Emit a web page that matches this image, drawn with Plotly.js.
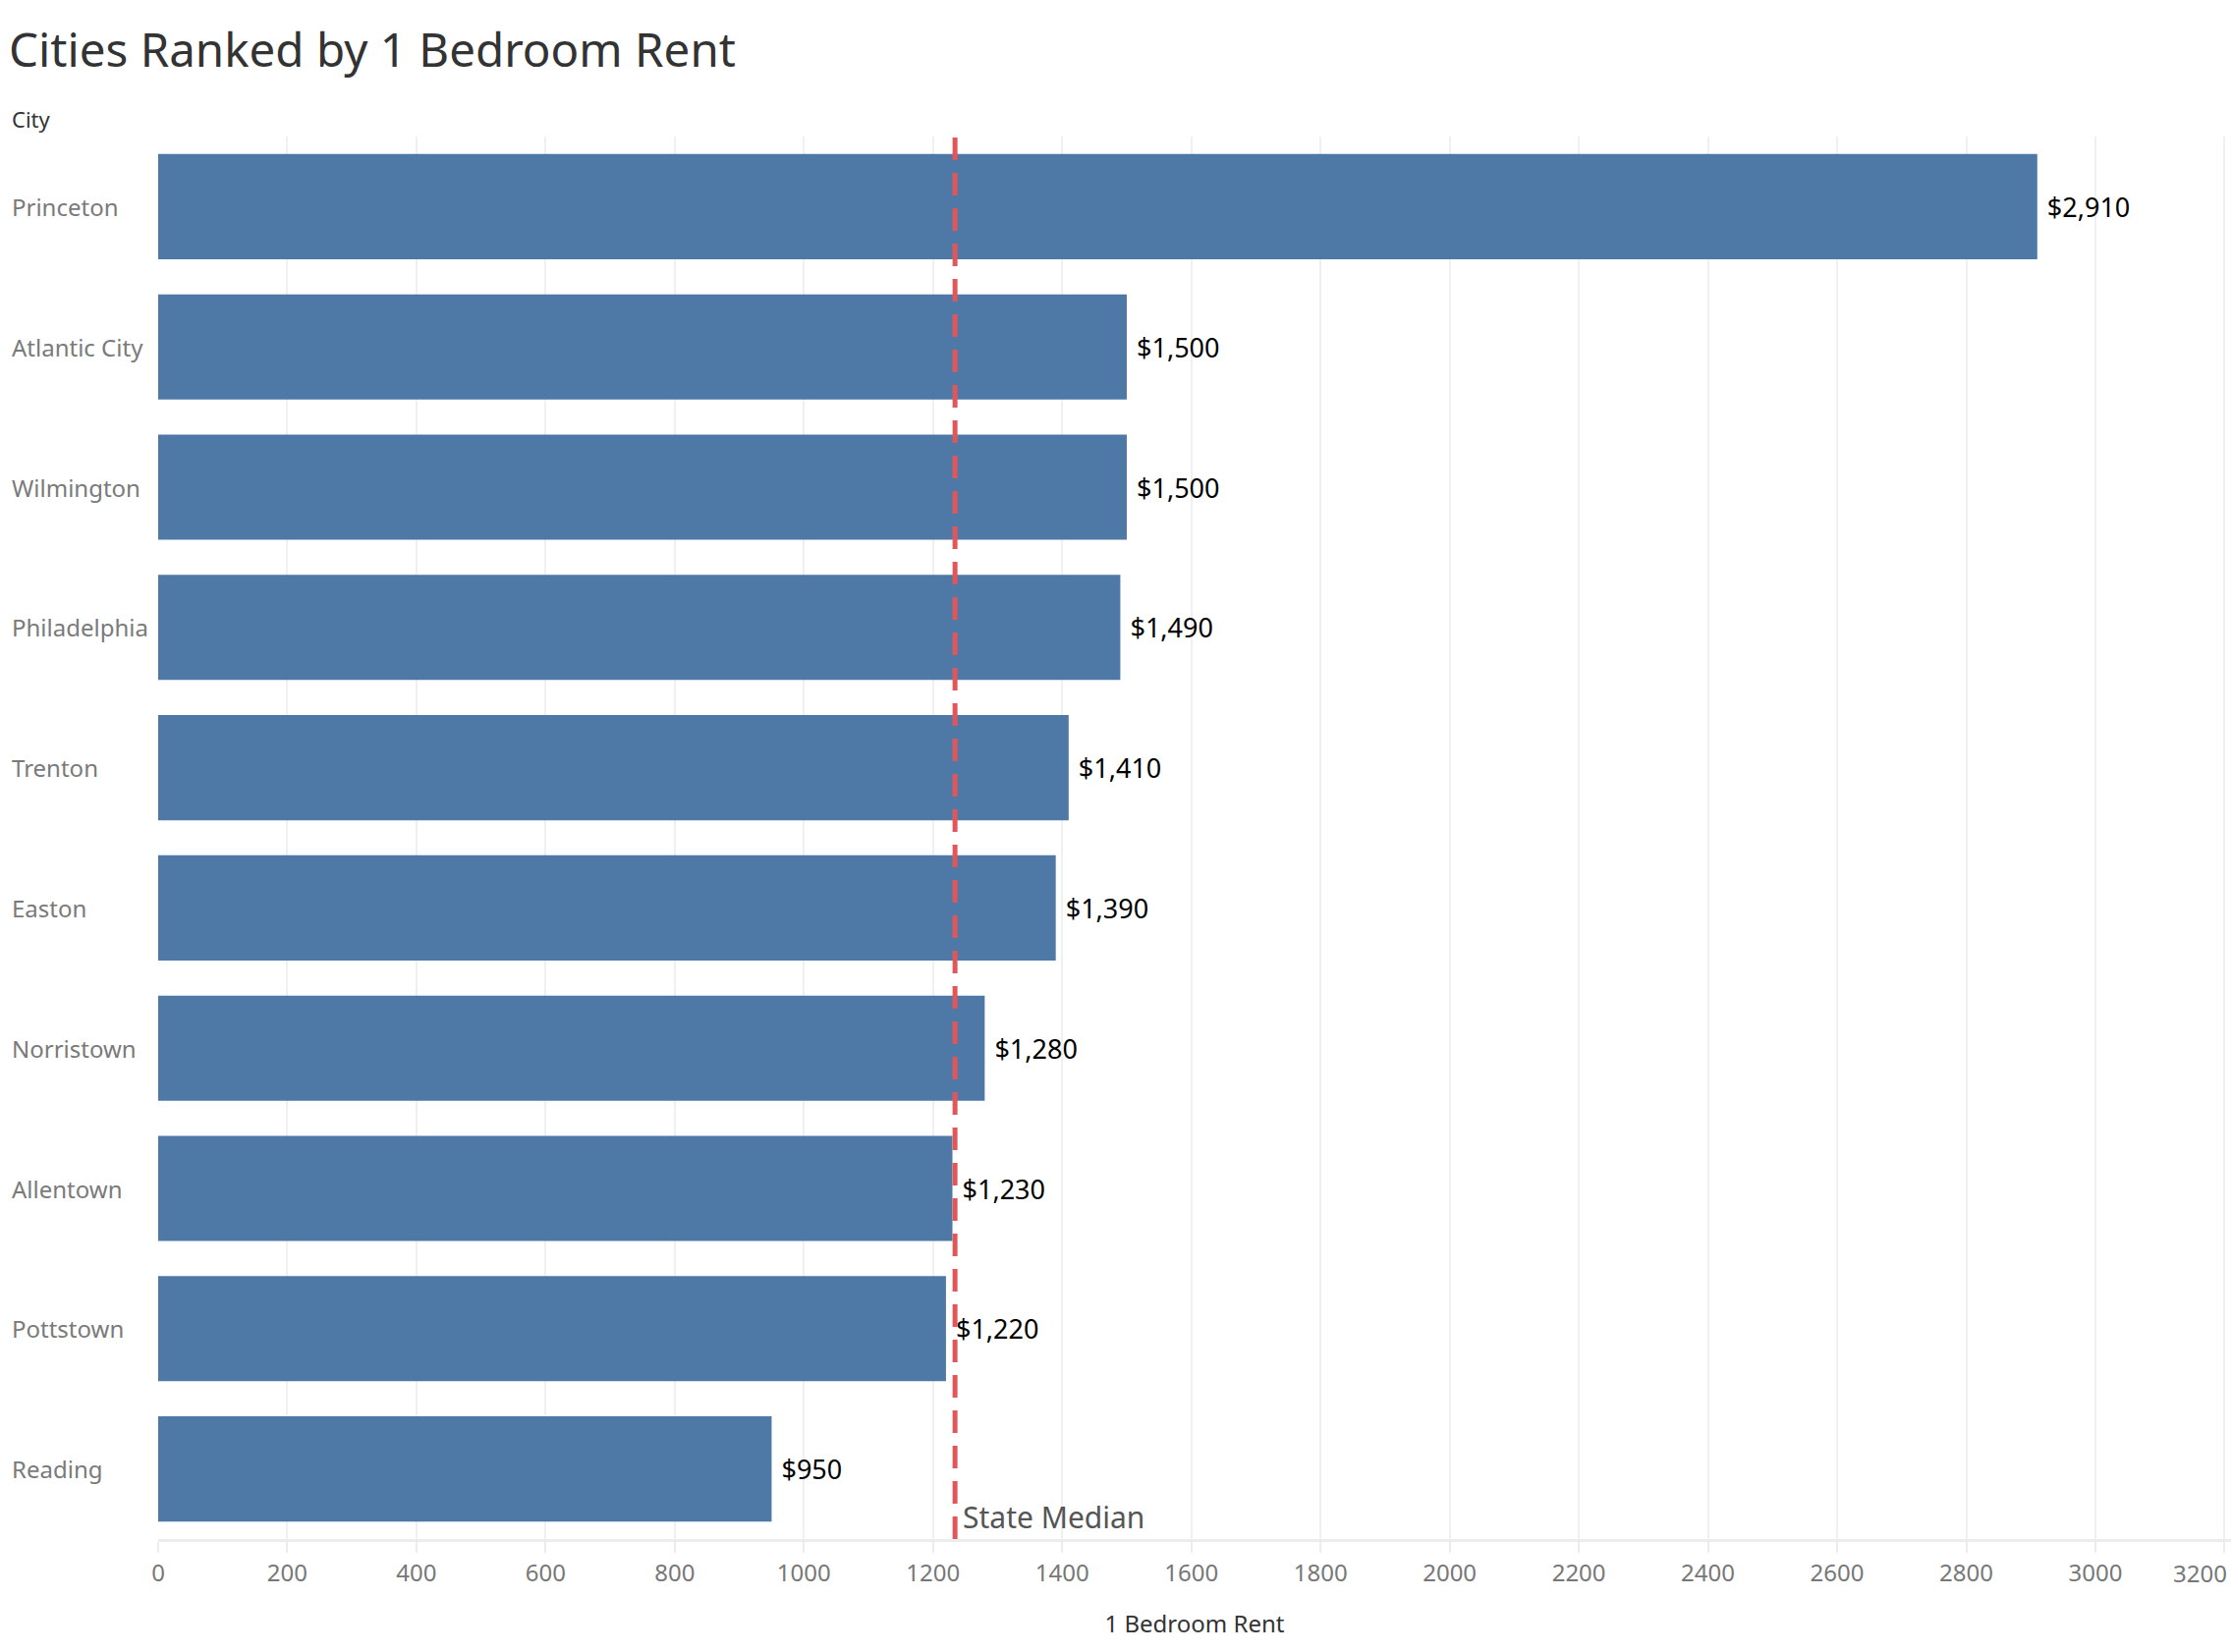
<!DOCTYPE html>
<html>
<head>
<meta charset="utf-8">
<script src="https://cdn.plot.ly/plotly-3.0.1.min.js"></script>
<style>
  html, body { margin: 0; padding: 0; background: #ffffff; }
  #chart { width: 2272px; height: 1682px; }
</style>
</head>
<body>
<div id="chart"></div>
<script>
const cities = ["Princeton", "Atlantic City", "Wilmington", "Philadelphia", "Trenton", "Easton", "Norristown", "Allentown", "Pottstown", "Reading"];
const rent1br = [2910, 1500, 1500, 1490, 1410, 1390, 1280, 1230, 1220, 950];
const stateMedian = 1234;
const xTicks = [0, 200, 400, 600, 800, 1000, 1200, 1400, 1600, 1800, 2000, 2200, 2400, 2600, 2800, 3000, 3200];

const FONT = "Noto Sans, Open Sans, sans-serif";
const lastTick = xTicks[xTicks.length - 1];

const trace = {
  type: "bar",
  orientation: "h",
  y: cities,
  x: rent1br,
  marker: { color: "#4e79a7" },
  texttemplate: "\u00a0$%{x:,.0f}",
  textposition: "outside",
  cliponaxis: false,
  textfont: { family: FONT, size: 27, color: "#000000" },
  hoverinfo: "skip"
};

const cityAnnotations = cities.map(c => ({
  xref: "paper", yref: "y",
  x: -0.0715, y: c,
  xanchor: "left", yanchor: "middle",
  text: c, showarrow: false,
  font: { family: FONT, size: 24, color: "#7a7a7a" }
}));

const layout = {
  width: 2272, height: 1682,
  paper_bgcolor: "#ffffff", plot_bgcolor: "#ffffff",
  margin: { l: 161, r: 1, t: 139, b: 115 },
  showlegend: false,
  bargap: 0.25,
  title: {
    text: "Cities Ranked by 1 Bedroom Rent",
    xref: "container", yref: "container",
    x: 0.004, xanchor: "left",
    y: 1 - 51 / 1682, yanchor: "middle",
    font: { family: FONT, size: 47.5, color: "#333333" }
  },
  xaxis: {
    range: [0, 3210],
    tickvals: xTicks,
    ticktext: xTicks.map(v => (v === lastTick ? "" : String(v))),
    showgrid: true, gridcolor: "#f0f0f0", gridwidth: 2,
    zeroline: false,
    showline: true, linecolor: "#ececec", linewidth: 3,
    ticks: "outside", ticklen: 11, tickcolor: "#ececec", tickwidth: 2,
    tickfont: { family: FONT, size: 24, color: "#777777" },
    title: { text: "1 Bedroom Rent", standoff: 30, font: { family: FONT, size: 24, color: "#333333" } },
    fixedrange: true
  },
  yaxis: {
    type: "category",
    categoryorder: "array", categoryarray: cities,
    autorange: "reversed",
    showticklabels: false,
    showgrid: false, zeroline: false, showline: false, ticks: "",
    fixedrange: true
  },
  shapes: [{
    type: "line", xref: "x", yref: "paper",
    x0: stateMedian, x1: stateMedian, y0: 0, y1: 1,
    line: { color: "#e15759", width: 5, dash: "23px,13px" },
    layer: "above"
  }],
  annotations: [
    {
      xref: "paper", yref: "paper",
      x: -0.0715, y: 1 + 18 / 1428,
      xanchor: "left", yanchor: "middle",
      text: "City", showarrow: false,
      font: { family: FONT, size: 22, color: "#333333" }
    },
    {
      xref: "x", yref: "paper",
      x: stateMedian, y: 0,
      xanchor: "left", yanchor: "bottom",
      xshift: 6, yshift: 0,
      text: "State Median", showarrow: false,
      font: { family: FONT, size: 30, color: "#555555" }
    },
    {
      xref: "x", yref: "paper",
      x: lastTick, y: 0,
      xanchor: "right", yanchor: "middle",
      xshift: 5, yshift: -34,
      text: String(lastTick), showarrow: false,
      font: { family: FONT, size: 24, color: "#777777" }
    }
  ].concat(cityAnnotations)
};

Plotly.newPlot("chart", [trace], layout, { displayModeBar: false, staticPlot: true });
</script>
</body>
</html>
